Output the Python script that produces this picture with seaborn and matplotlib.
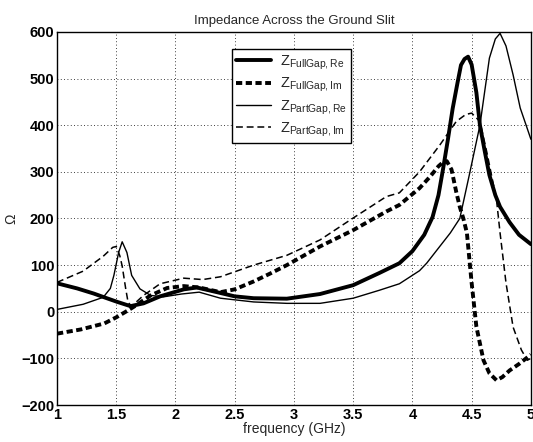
import matplotlib
matplotlib.use("Agg")
import matplotlib.pyplot as plt
import seaborn as sns
from matplotlib.lines import Line2D

# ---- data ----
f_full_re = [1.0, 1.17, 1.31, 1.42, 1.51, 1.62, 1.73, 1.87, 2.07, 2.18, 2.35, 2.5, 2.66, 2.94,
             3.22, 3.5, 3.72, 3.89, 4.0, 4.1, 4.17, 4.22, 4.26, 4.30, 4.34, 4.38, 4.41, 4.44, 4.47,
             4.50, 4.54, 4.57, 4.61, 4.65, 4.70, 4.74, 4.82, 4.9, 5.0]
z_full_re = [61, 50, 39, 29, 21, 12, 18, 33, 48, 52, 42, 33, 29, 28,
             38, 57, 83, 104, 130, 165, 203, 250, 308, 370, 436, 490, 529, 542, 547,
             530, 470, 400, 345, 293, 250, 225, 192, 165, 145]

f_full_im = [1.0, 1.2, 1.4, 1.5, 1.6, 1.65, 1.79, 1.93, 2.07, 2.2, 2.38, 2.5, 2.66, 2.8, 2.94,
             3.22, 3.5, 3.78, 3.89, 4.06, 4.15, 4.22, 4.26, 4.29, 4.33, 4.37, 4.40, 4.43, 4.46,
             4.50, 4.54, 4.60, 4.65, 4.71, 4.76, 4.82, 4.9, 4.96, 5.0]
z_full_im = [-47, -38, -25, -12, 3, 11, 35, 51, 55, 52, 42, 48, 65, 82, 100,
             140, 175, 215, 229, 265, 290, 312, 321, 323, 305, 257, 225, 200, 169,
             62, -32, -104, -132, -147, -140, -126, -112, -100, -92]

f_part_re = [1.0, 1.22, 1.39, 1.45, 1.48, 1.52, 1.55, 1.59, 1.63, 1.70, 1.79, 1.9, 2.05, 2.2,
             2.38, 2.66, 2.94, 3.22, 3.5, 3.72, 3.89, 4.06, 4.12, 4.32, 4.40, 4.48, 4.57,
             4.65, 4.70, 4.74, 4.79, 4.85, 4.91, 4.96, 5.0]
z_part_re = [5, 16, 31, 50, 78, 127, 150, 127, 78, 49, 35, 32, 38, 42,
             29, 21, 18, 18, 29, 46, 60, 88, 104, 169, 200, 293, 400,
             544, 585, 597, 570, 508, 437, 400, 370]

f_part_im = [1.0, 1.22, 1.39, 1.47, 1.50, 1.53, 1.55, 1.58, 1.60, 1.63, 1.73, 1.87, 2.07, 2.23,
             2.38, 2.66, 2.94, 3.22, 3.5, 3.78, 3.89, 4.06, 4.23, 4.37, 4.45, 4.50, 4.57,
             4.63, 4.71, 4.74, 4.79, 4.85, 4.92, 4.97, 5.0]
z_part_im = [63, 87, 119, 138, 140, 120, 98, 49, 20, 12, 35, 60, 72, 69,
             75, 100, 121, 154, 201, 247, 255, 300, 357, 408, 423, 426, 408,
             340, 240, 169, 62, -33, -82, -104, -100]

labels = [r"$\mathrm{Z}_{\mathrm{FullGap,Re}}$", r"$\mathrm{Z}_{\mathrm{FullGap,Im}}$",
          r"$\mathrm{Z}_{\mathrm{PartGap,Re}}$", r"$\mathrm{Z}_{\mathrm{PartGap,Im}}$"]
xticks = [1, 1.5, 2, 2.5, 3, 3.5, 4, 4.5, 5]
xticklabels = ["1", "1.5", "2", "2.5", "3", "3.5", "4", "4.5", "5"]
yticks = [-200, -100, 0, 100, 200, 300, 400, 500, 600]

# ---- styling ----
sns.set_style("white")
plt.rcParams["font.family"] = ["Liberation Sans", "DejaVu Sans"]
plt.rcParams["mathtext.fontset"] = "custom"
plt.rcParams["mathtext.rm"] = "Liberation Sans"

fig = plt.figure(figsize=(5.33, 4.42), dpi=100)
ax = fig.add_axes([0.107, 0.0837, 0.889, 0.844])

styles = [
    dict(lw=2.8, ls="-"),
    dict(lw=2.8, ls=(0, (1.6, 0.9))),
    dict(lw=1.0, ls="-"),
    dict(lw=1.1, ls=(0, (4.5, 2.5))),
]
series = [(f_full_re, z_full_re), (f_full_im, z_full_im),
          (f_part_re, z_part_re), (f_part_im, z_part_im)]

for (fx, zy), st in zip(series, styles):
    sns.lineplot(x=fx, y=zy, ax=ax, color="black", linewidth=st["lw"],
                 linestyle=st["ls"], sort=False, estimator=None)

ax.set_xlim(1, 5)
ax.set_ylim(-200, 600)
ax.set_xticks(xticks)
ax.set_xticklabels(xticklabels)
ax.set_yticks(yticks)
ax.grid(True, color="black", linestyle=(0, (1, 3)), linewidth=0.6)
for s in ax.spines.values():
    s.set_color("black")
    s.set_linewidth(1.0)
ax.tick_params(direction="in", length=3, labelsize=10.5, colors="black", pad=2)
for t in ax.get_xticklabels() + ax.get_yticklabels():
    t.set_fontweight("bold")

ax.set_title("Impedance Across the Ground Slit", fontsize=9.5, pad=6)
ax.set_xlabel("frequency (GHz)", fontsize=10, labelpad=0)
ax.set_ylabel("Ω", fontsize=10, labelpad=2)

handles = [Line2D([0], [0], color="black", lw=st["lw"], ls=st["ls"]) for st in styles]
leg = ax.legend(handles, labels, loc="upper left", bbox_to_anchor=(0.369, 0.954),
                frameon=True, fancybox=False, edgecolor="black", framealpha=1,
                fontsize=10.5, handlelength=2.4, handletextpad=0.6,
                labelspacing=0.25, borderpad=0.3, borderaxespad=0)
leg.get_frame().set_linewidth(1.0)

fig.savefig("out.png", dpi=100)
